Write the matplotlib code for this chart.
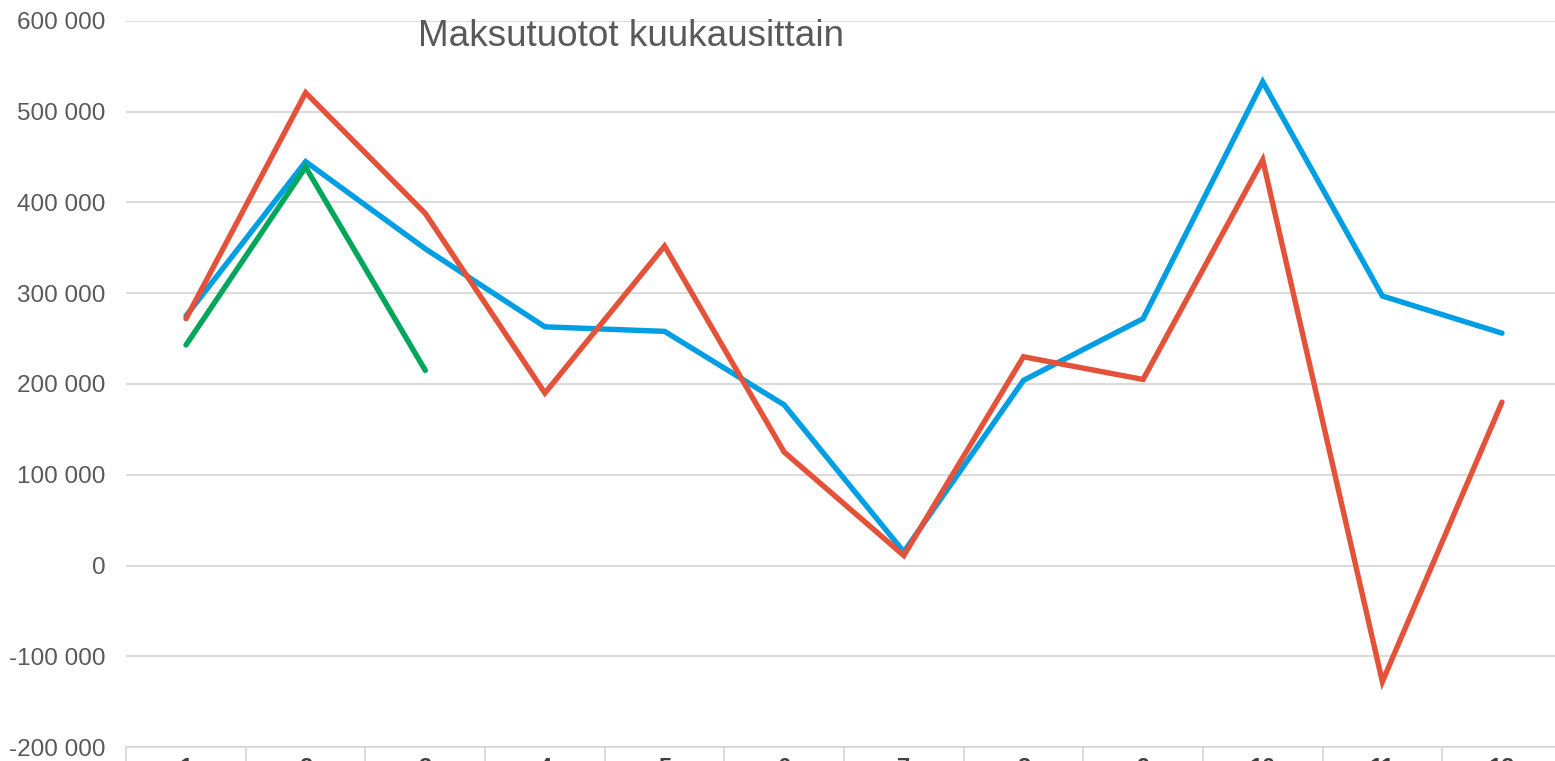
import numpy as np
import matplotlib.pyplot as plt
from matplotlib.ticker import FuncFormatter, FixedLocator

plt.rcParams['font.family'] = ['Liberation Sans', 'DejaVu Sans']

months = list(range(1, 13))
series_blue = [275000, 445000, 349000, 263000, 258000, 177000, 15000, 204000, 272000, 533000, 297000, 256000]
series_red = [272000, 521000, 388000, 190000, 352000, 125000, 11000, 230000, 205000, 447000, -128000, 180000]
series_green = [243000, 439000, 215000]

grey = '#595959'
grid_col = '#d4d4d4'

fig = plt.figure(figsize=(15.55, 7.61), dpi=100)
ax = fig.add_axes([126.2 / 1555, 14 / 761, 1435.6 / 1555, 726 / 761])

ax.plot(months, series_blue, color='#009fe3', lw=3.9, solid_capstyle='round', solid_joinstyle='miter', zorder=3)
ax.plot(months, series_red, color='#e4523a', lw=3.9, solid_capstyle='round', solid_joinstyle='miter', zorder=4)
ax.plot(months[:len(series_green)], series_green, color='#00a65a', lw=3.9, solid_capstyle='round', solid_joinstyle='miter', zorder=5)

ax.set_xlim(0.5, 12.5)
ax.set_ylim(-200000, 600000)
ax.set_yticks(np.arange(-200000, 600001, 100000))
ax.yaxis.set_major_formatter(FuncFormatter(lambda v, p: '{:,.0f}'.format(v).replace(',', ' ')))
ax.grid(axis='y', color=grid_col, lw=1.2)
ax.set_axisbelow(True)

ax.set_xticks(months)
ax.set_xticklabels([str(m) for m in months], fontweight='bold')
ax.xaxis.set_minor_locator(FixedLocator(np.arange(0.5, 13, 1)))
ax.tick_params(axis='x', which='major', length=0, pad=7, labelsize=17, labelcolor='#404040')
ax.tick_params(axis='x', which='minor', length=20, width=1.2, color=grid_col)
ax.tick_params(axis='y', length=0, pad=15, labelsize=17.5, labelcolor=grey)

for s in ['top', 'right', 'left']:
    ax.spines[s].set_visible(False)
ax.spines['bottom'].set_color(grid_col)
ax.spines['bottom'].set_linewidth(1.2)

fig.text(631 / 1555, 1 - 46 / 761, 'Maksutuotot kuukausittain', ha='center', va='baseline',
         fontsize=26.6, color=grey)

fig.savefig('out.png', dpi=100)
